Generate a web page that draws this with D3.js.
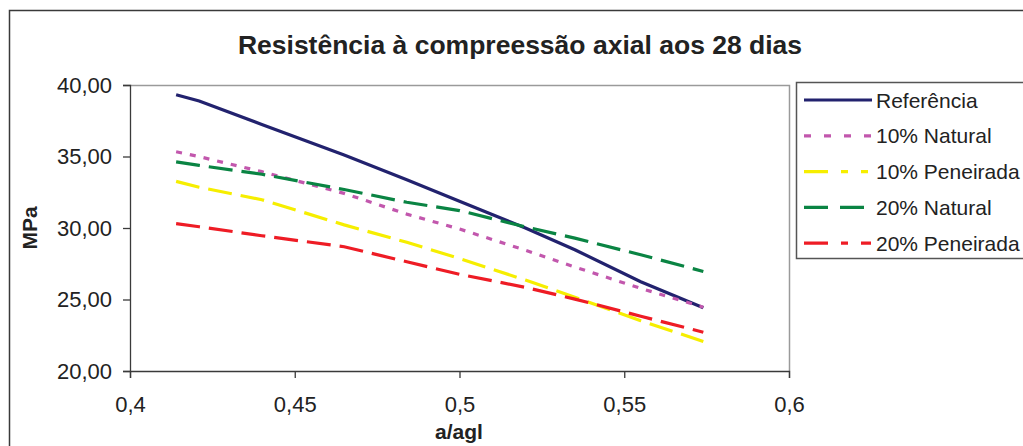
<!DOCTYPE html>
<html>
<head>
<meta charset="utf-8">
<script src="https://cdn.jsdelivr.net/npm/d3@7"></script>
<style>
  body { margin: 0; background: #fff; }
  svg { display: block; font-family: "Liberation Sans", Arial, sans-serif; }
</style>
</head>
<body>
<svg id="chart" width="1023" height="446"></svg>
<script>
// a/agl values shared by every series
const aagl = [0.414, 0.421, 0.44, 0.465, 0.484, 0.50, 0.52, 0.535, 0.555, 0.574];

// MPa values
const referencia     = [39.32, 38.88, 37.24, 35.10, 33.38, 31.87, 30.00, 28.48, 26.24, 24.42];
const natural10      = [35.33, 34.99, 33.94, 32.42, 30.97, 29.93, 28.45, 27.27, 25.78, 24.46];
const peneirada10    = [33.26, 32.85, 31.98, 30.22, 29.00, 27.87, 26.36, 25.16, 23.52, 22.06];
const natural20      = [34.62, 34.38, 33.76, 32.69, 31.80, 31.22, 30.08, 29.29, 28.13, 26.96];
const peneirada20    = [30.30, 30.09, 29.46, 28.69, 27.64, 26.76, 25.85, 25.03, 23.83, 22.71];

const seriesNames = ["Referência", "10% Natural", "10% Peneirada", "20% Natural", "20% Peneirada"];

const xTicks = [0.4, 0.45, 0.5, 0.55, 0.6];
const xTickLabels = ["0,4", "0,45", "0,5", "0,55", "0,6"];
const yTicks = [20, 25, 30, 35, 40];
const yTickLabels = ["20,00", "25,00", "30,00", "35,00", "40,00"];

const title = "Resistência à compreessão axial aos 28 dias";

const series = [
  { name: seriesNames[0], values: referencia,  color: "#22226e", dash: null,      legendDash: null },
  { name: seriesNames[1], values: natural10,   color: "#c257ad", dash: "6,8",     legendDash: "7,13" },
  { name: seriesNames[2], values: peneirada10, color: "#f6ee00", dash: "24,9",    legendDash: "24,13,7,13,7,13" },
  { name: seriesNames[3], values: natural20,   color: "#0a8443", dash: "24,9",    legendDash: "24,12" },
  { name: seriesNames[4], values: peneirada20, color: "#ee1c25", dash: "24,9",    legendDash: "24,13,7,13,10,13" }
];

const svg = d3.select("svg#chart");

// outer chart frame
svg.append("rect")
  .attr("x", 9.5).attr("y", 10.5)
  .attr("width", 1040).attr("height", 460)
  .attr("fill", "none").attr("stroke", "#3a3a3a").attr("stroke-width", 1.5);

//plot area
const plot = { left: 130, right: 789, top: 85, bottom: 371 };

const xScale = d3.scaleLinear().domain([0.4, 0.6]).range([plot.left, plot.right]);
const yScale = d3.scaleLinear().domain([20, 40]).range([plot.bottom, plot.top]);

// gray border on top and right
svg.append("path")
  .attr("d", `M${plot.left},${plot.top + 0.5}H${plot.right + 0.5}V${plot.bottom}`)
  .attr("fill", "none").attr("stroke", "#9a9a9a").attr("stroke-width", 1.5);

const xAxis = svg.append("g")
  .attr("transform", `translate(0, ${plot.bottom})`)
  .call(d3.axisBottom(xScale).tickValues(xTicks)
    .tickFormat((d, i) => xTickLabels[i]).tickSizeOuter(0).tickSize(7).tickPadding(18));

const yAxis = svg.append("g")
  .attr("transform", `translate(${plot.left}, 0)`)
  .call(d3.axisLeft(yScale).tickValues(yTicks)
    .tickFormat((d, i) => yTickLabels[i]).tickSizeOuter(0).tickSize(7).tickPadding(11));

svg.selectAll(".domain, .tick line").attr("stroke", "#3a3a3a").attr("stroke-width", 1.3);
svg.selectAll(".tick text").attr("fill", "#222").style("font-size", "22px");

// lines
const line = d3.line()
  .x((d, i) => xScale(aagl[i]))
  .y(d => yScale(d));

svg.append("g")
  .selectAll("path")
  .data(series)
  .enter()
  .append("path")
  .attr("d", s => line(s.values))
  .attr("fill", "none")
  .attr("stroke", s => s.color)
  .attr("stroke-width", 3.2)
  .attr("stroke-dasharray", s => s.dash);

// titles
svg.append("text")
  .attr("x", 520).attr("y", 54)
  .attr("text-anchor", "middle")
  .style("font-size", "26.5px").style("font-weight", "bold").attr("fill", "#222")
  .text(title);

svg.append("text")
  .attr("x", 459).attr("y", 439)
  .attr("text-anchor", "middle")
  .style("font-size", "21px").style("font-weight", "bold").attr("fill", "#222")
  .text("a/agl");

svg.append("text")
  .attr("transform", `translate(37, ${(plot.top + plot.bottom) / 2}) rotate(-90)`)
  .attr("text-anchor", "middle")
  .style("font-size", "21px").style("font-weight", "bold").attr("fill", "#222")
  .text("MPa");

// legend
const legend = svg.append("g");
legend.append("rect")
  .attr("x", 796.5).attr("y", 82.5)
  .attr("width", 260).attr("height", 176)
  .attr("fill", "#fff").attr("stroke", "#555").attr("stroke-width", 1.5);

const item = legend.selectAll("g.item")
  .data(series)
  .enter()
  .append("g")
  .attr("class", "item")
  .attr("transform", (d, i) => `translate(0, ${100 + i * 35.8})`);

item.append("line")
  .attr("x1", 804).attr("x2", 872)
  .attr("stroke", d => d.color).attr("stroke-width", 3.2)
  .attr("stroke-dasharray", d => d.legendDash);

item.append("text")
  .attr("x", 876).attr("y", 7.5)
  .style("font-size", "21px").attr("fill", "#222")
  .text(d => d.name);
</script>
</body>
</html>
